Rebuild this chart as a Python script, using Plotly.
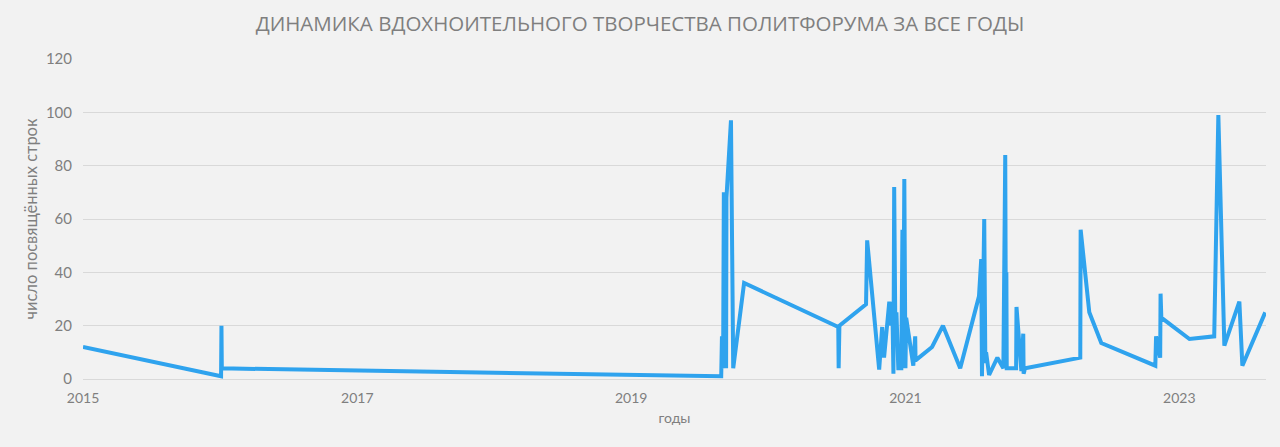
import plotly.graph_objects as go

dates = [
    "2015-01-01", "2016-01-04", "2016-01-05", "2016-01-06",
    "2019-08-29", "2019-08-31", "2019-09-03", "2019-09-05", "2019-09-11", "2019-09-12",
    "2019-09-24", "2019-09-30", "2019-10-29",
    "2020-07-06", "2020-07-07", "2020-07-09",
    "2020-09-18", "2020-09-21", "2020-10-23", "2020-10-31", "2020-11-05", "2020-11-19",
    "2020-11-24", "2020-11-27", "2020-11-30", "2020-12-02", "2020-12-05", "2020-12-08",
    "2020-12-13", "2020-12-21", "2020-12-24", "2020-12-26", "2020-12-29",
    "2021-01-01", "2021-01-03", "2021-01-11", "2021-01-22", "2021-01-27", "2021-01-28",
    "2021-03-13", "2021-04-11", "2021-05-27", "2021-07-16", "2021-07-22", "2021-07-24",
    "2021-07-30", "2021-08-02", "2021-08-04", "2021-08-12", "2021-09-03", "2021-09-19",
    "2021-09-24", "2021-09-26", "2021-09-27", "2021-09-28", "2021-10-23", "2021-10-24",
    "2021-11-06", "2021-11-11", "2021-11-12", "2021-11-16",
    "2022-04-12", "2022-04-13", "2022-05-06", "2022-06-07",
    "2022-10-29", "2022-10-31", "2022-11-11", "2022-11-12", "2022-11-14",
    "2023-01-28", "2023-04-04", "2023-04-15", "2023-05-01", "2023-06-10", "2023-06-18",
    "2023-08-18",
]
lines_count = [
    12, 1, 20, 4,
    1, 16, 4, 70, 4, 68,
    97, 4, 36,
    19.5, 4, 20,
    28, 52, 3.5, 19.5, 8, 29,
    20, 29, 2, 72, 20, 25,
    4, 4, 56, 4, 75,
    4, 23, 15, 5, 16, 7,
    12, 20, 4, 31, 45, 1,
    60, 6, 10, 1.5, 8, 4,
    84, 4, 40, 4, 4, 27,
    3, 17, 2, 4,
    8, 56, 25, 13.5,
    5, 16, 8, 32, 23,
    15, 16, 99, 12.5, 29, 5,
    25,
]
tick_years = ["2015", "2017", "2019", "2021", "2023"]

title_text = "ДИНАМИКА ВДОХНОИТЕЛЬНОГО ТВОРЧЕСТВА ПОЛИТФОРУМА ЗА ВСЕ ГОДЫ"
x_title = "годы"
y_title = "число посвящённых строк"

fig = go.Figure()
fig.add_trace(go.Scatter(
    x=dates, y=lines_count, mode="lines",
    line=dict(color="#2fa3ee", width=4, shape="linear"),
    hoverinfo="x+y", showlegend=False,
))

grey = "#7f7f7f"
fig.update_layout(
    width=1280, height=447,
    paper_bgcolor="#f2f2f2", plot_bgcolor="#f2f2f2",
    margin=dict(l=83, r=14, t=59, b=68, autoexpand=False),
    title=dict(text=title_text, x=0.5, xanchor="center", y=1 - 24 / 447, yref="container",
               yanchor="middle",
               font=dict(family="Open Sans", size=20.5, color=grey)),
    font=dict(family="Lato", color=grey),
    xaxis=dict(
        type="date", range=["2015-01-01", "2023-08-20"],
        tickvals=[y + "-01-01" for y in tick_years],
        ticktext=tick_years,
        showgrid=False, zeroline=False, showline=False, ticks="",
        tickfont=dict(size=14, color=grey), ticklabelstandoff=9,
        automargin=False,
        title=dict(text=x_title, font=dict(size=14, color=grey), standoff=8),
    ),
    yaxis=dict(
        range=[0, 120], dtick=20, tick0=0,
        showgrid=True, gridcolor="#d9d9d9", gridwidth=1,
        zeroline=True, zerolinecolor="#d9d9d9", zerolinewidth=1,
        showline=False, ticks="", automargin=False,
        tickfont=dict(size=15, color=grey), ticklabelstandoff=10,
        title=dict(text=y_title, font=dict(size=16.5, color=grey), standoff=4),
    ),
)

fig.write_html(
    "out.html",
    config={"displayModeBar": False},
    post_script="document.body.style.margin='0';document.body.style.background='#f2f2f2';",
)
